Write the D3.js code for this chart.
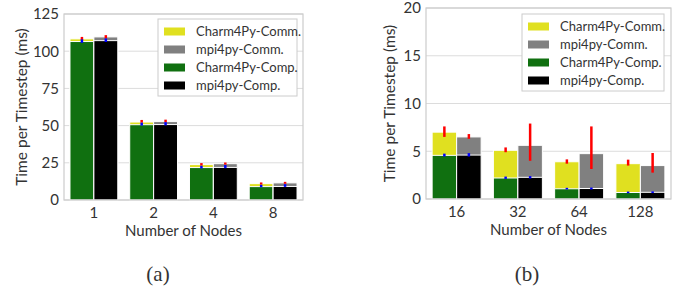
<!DOCTYPE html>
<html>
<head>
<meta charset="utf-8">
<script src="https://cdn.jsdelivr.net/npm/d3@7"></script>
<style>
  body { margin: 0; background: #fff; }
  svg text { font-family: Lato, "Open Sans", sans-serif; fill: #333; }
</style>
</head>
<body>
<svg id="chart" width="686" height="293"></svg>
<script>
// panel (a)
var nodesA = ["1", "2", "4", "8"];
var charmCompA = [106.5, 50.6, 21.8, 9.0];
var charmTotalA = [108.3, 52.4, 23.8, 11.0];
var mpiCompA = [107.1, 50.7, 21.9, 9.1];
var mpiTotalA = [109.6, 52.7, 24.4, 11.5];
var charmCommErrA = [[107.6, 109.6], [52.0, 53.8], [23.2, 24.8], [10.4, 11.8]];
var mpiCommErrA = [[108.6, 110.8], [52.3, 54.0], [23.8, 25.2], [10.9, 12.2]];
var charmCompErrA = [[105.6, 108.0], [50.0, 52.0], [21.2, 23.0], [8.6, 10.2]];
var mpiCompErrA = [[106.2, 108.6], [50.2, 52.3], [21.4, 23.5], [8.8, 10.6]];
var ticksA = [0, 25, 50, 75, 100, 125];

// panel (b)
var nodesB = ["16", "32", "64", "128"];
var charmCompB = [4.57, 2.2, 1.07, 0.68];
var charmTotalB = [7.0, 5.1, 3.9, 3.7];
var mpiCompB = [4.6, 2.27, 1.1, 0.7];
var mpiTotalB = [6.5, 5.62, 4.75, 3.5];
var charmCommErrB = [[6.5, 7.6], [4.9, 5.4], [3.7, 4.15], [3.5, 4.12]];
var mpiCommErrB = [[6.3, 6.8], [4.0, 7.9], [3.14, 7.6], [2.76, 4.82]];
var charmCompErrB = [[4.45, 4.75], [2.1, 2.35], [1.0, 1.17], [0.6, 0.78]];
var mpiCompErrB = [[4.45, 4.8], [2.15, 2.4], [1.0, 1.2], [0.62, 0.8]];
var ticksB = [0, 5, 10, 15, 20];

var legendLabels = ["Charm4Py-Comm.", "mpi4py-Comm.", "Charm4Py-Comp.", "mpi4py-Comp."];
var colors = { charmComm: "#e0e020", mpiComm: "#808080", charmComp: "#107010", mpiComp: "#000000" };
var legendColors = [colors.charmComm, colors.mpiComm, colors.charmComp, colors.mpiComp];

var svg = d3.select("#chart");

function drawPanel(cfg) {
    var x = d3.scaleBand().domain(cfg.nodes).range([cfg.left, cfg.right]).paddingInner(0.2).paddingOuter(0.1);
    var y = d3.scaleLinear().domain([0, cfg.ticks[cfg.ticks.length - 1]]).range([cfg.bottom, cfg.top]);
    var g = svg.append("g");
    var bw = x.bandwidth() / 2;

    // grid
    g.selectAll(".grid").data(cfg.ticks).enter().append("line")
        .attr("x1", cfg.left).attr("x2", cfg.right)
        .attr("y1", function(d) { return y(d); }).attr("y2", function(d) { return y(d); })
        .attr("stroke", "#dcdcdc").attr("stroke-width", 1);

    var series = [
        { total: cfg.charmTotal, comp: cfg.charmComp, off: 0, comm: colors.charmComm, cc: colors.charmComp, ce: cfg.charmCommErr, pe: cfg.charmCompErr },
        { total: cfg.mpiTotal, comp: cfg.mpiComp, off: 1, comm: colors.mpiComm, cc: colors.mpiComp, ce: cfg.mpiCommErr, pe: cfg.mpiCompErr }
    ];
    series.forEach(function(s) {
        cfg.nodes.forEach(function(n, i) {
            var x0 = x(n) + s.off * bw;
            g.append("rect").attr("x", x0).attr("width", bw)
                .attr("y", y(s.total[i])).attr("height", y(0) - y(s.total[i]))
                .attr("fill", s.comm).attr("stroke", "#fff").attr("stroke-width", 1);
            g.append("rect").attr("x", x0).attr("width", bw)
                .attr("y", y(s.comp[i])).attr("height", y(0) - y(s.comp[i]))
                .attr("fill", s.cc).attr("stroke", "#fff").attr("stroke-width", 1);
        });
    });
    series.forEach(function(s) {
        cfg.nodes.forEach(function(n, i) {
            var cx = x(n) + s.off * bw + bw / 2;
            g.append("line").attr("x1", cx).attr("x2", cx)
                .attr("y1", y(s.ce[i][0])).attr("y2", y(s.ce[i][1]))
                .attr("stroke", "#ff0000").attr("stroke-width", 2.5);
            g.append("line").attr("x1", cx).attr("x2", cx)
                .attr("y1", y(s.pe[i][0])).attr("y2", y(s.pe[i][1]))
                .attr("stroke", "#0000ff").attr("stroke-width", 2.5);
        });
    });

    // frame
    g.append("rect").attr("x", cfg.left).attr("y", cfg.top)
        .attr("width", cfg.right - cfg.left).attr("height", cfg.bottom - cfg.top)
        .attr("fill", "none").attr("stroke", "#cccccc").attr("stroke-width", 1.2);

    // axes
    var yAxis = g.append("g").attr("transform", "translate(" + cfg.left + ",0)")
        .call(d3.axisLeft(y).tickValues(cfg.ticks).tickSize(0).tickPadding(5));
    yAxis.select(".domain").remove();
    yAxis.selectAll("text").style("font-size", "15px").attr("fill", "#333");

    var xAxis = g.append("g").attr("transform", "translate(0," + cfg.bottom + ")")
        .call(d3.axisBottom(x).tickSize(0).tickPadding(7));
    xAxis.select(".domain").remove();
    xAxis.selectAll("text").style("font-size", "15px").attr("fill", "#333");

    g.append("text").attr("x", (cfg.left + cfg.right) / 2).attr("y", cfg.bottom + 36)
        .attr("text-anchor", "middle").style("font-size", "15px").text("Number of Nodes");
    g.append("text")
        .attr("transform", "translate(" + cfg.ylabX + "," + ((cfg.top + cfg.bottom) / 2) + ") rotate(-90)")
        .attr("text-anchor", "middle").attr("dy", "0.35em").style("font-size", "15.5px")
        .text("Time per Timestep (ms)");

    // legend
    var lg = g.append("g");
    lg.append("rect").attr("x", cfg.leg.x).attr("y", cfg.leg.y).attr("width", cfg.leg.w).attr("height", cfg.leg.h)
        .attr("fill", "#fff").attr("stroke", "#cccccc").attr("stroke-width", 1);
    legendLabels.forEach(function(lab, i) {
        var ry = cfg.leg.y + 12.5 + i * 18;
        lg.append("rect").attr("x", cfg.leg.x + 6).attr("y", ry - 4).attr("width", 21).attr("height", 8)
            .attr("fill", legendColors[i]);
        lg.append("text").attr("x", cfg.leg.x + 38).attr("y", ry).attr("dy", "0.35em")
            .style("font-size", "13px").text(lab);
    });

    svg.append("text").attr("x", cfg.capX).attr("y", 281).attr("text-anchor", "middle")
        .style("font-family", "'Liberation Serif', serif").style("font-size", "21px").attr("fill", "#000")
        .text(cfg.caption);
}

drawPanel({
    nodes: nodesA, ticks: ticksA,
    charmComp: charmCompA, charmTotal: charmTotalA, mpiComp: mpiCompA, mpiTotal: mpiTotalA,
    charmCommErr: charmCommErrA, mpiCommErr: mpiCommErrA, charmCompErr: charmCompErrA, mpiCompErr: mpiCompErrA,
    left: 64, right: 303, top: 14, bottom: 200, ylabX: 22,
    leg: { x: 158, y: 19, w: 139, h: 77 }, capX: 158, caption: "(a)"
});
drawPanel({
    nodes: nodesB, ticks: ticksB,
    charmComp: charmCompB, charmTotal: charmTotalB, mpiComp: mpiCompB, mpiTotal: mpiTotalB,
    charmCommErr: charmCommErrB, mpiCommErr: mpiCommErrB, charmCompErr: charmCompErrB, mpiCompErr: mpiCompErrB,
    left: 426, right: 671, top: 8, bottom: 199, ylabX: 390,
    leg: { x: 522, y: 14, w: 142, h: 77 }, capX: 527, caption: "(b)"
});
</script>
</body>
</html>
